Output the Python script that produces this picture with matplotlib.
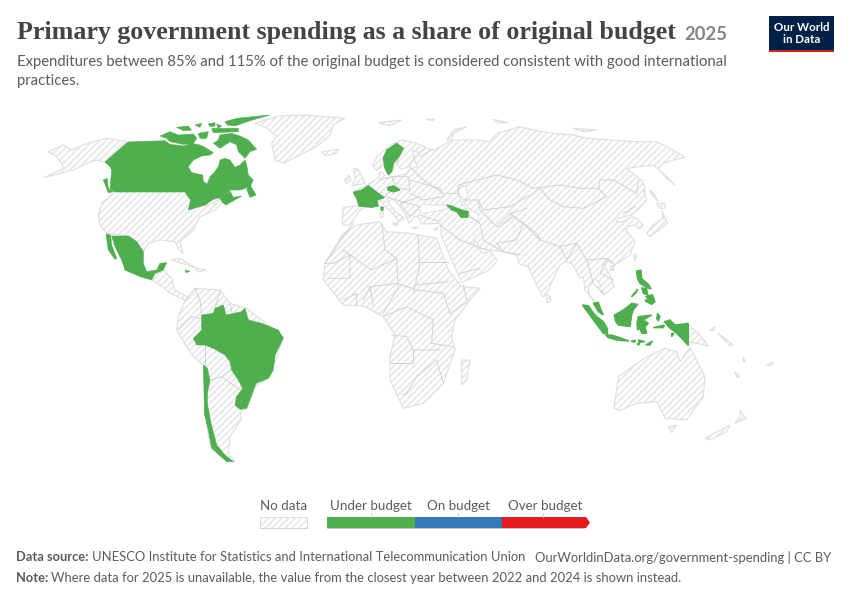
import matplotlib
matplotlib.use("Agg")
import matplotlib.pyplot as plt
from matplotlib.patches import Polygon, Rectangle

plt.rcParams['font.family'] = ['Lato', 'DejaVu Sans']
plt.rcParams['hatch.linewidth'] = 1.3

GREEN = '#4fae4e'
BLUE = '#3379b5'
RED = '#e41a1c'
OUTLINE = '#dedede'
HATCH = '#e8e8e8'
BORDER = '#d2d2d2'
TEXT = '#5b5b5b'

title = "Primary government spending as a share of original budget"
title_year = "2025"
subtitle = ["Expenditures between 85% and 115% of the original budget is considered consistent with good international",
            "practices."]
source_text = "UNESCO Institute for Statistics and International Telecommunication Union"
source_url = "OurWorldinData.org/government-spending | CC BY"
note_text = "Where data for 2025 is unavailable, the value from the closest year between 2022 and 2024 is shown instead."

legend_labels = ["Under budget", "On budget", "Over budget"]
legend_colors = [GREEN, BLUE, RED]
legend_edges = [327, 415, 502, 584]
legend_label_shift = [0, 0.5, 2]

# Outlines, in 3x crop pixels. Each crop has its own origin
CROP_A = (0, 100)
CROP_B = (320, 100)
CROP_C = (150, 280)
CROP_D = (540, 260)
CROP_E = (335, 130)
CROP_F = (150, 110)
CROP_G = (480, 190)
CROP_H = (575, 265)

# crop A
alaska = [(385,125),(315,187),(290,180),(250,195),(225,208),(133,233),(190,205),(185,190),(170,170),(145,155),(190,135),(215,150),(260,130),(320,115)]
usa = [(345,275),(555,275),(572,300),(565,330),(595,320),(640,310),(665,290),(685,290),(645,330),(600,350),(580,390),(540,425),(550,460),(537,450),(525,425),(480,420),(445,430),(430,455),(410,425),(385,408),(320,400),(300,375),(295,345),(305,310)]
greenland = [(765,70),(835,48),(920,45),(1035,55),(1000,75),(990,105),(950,140),(850,190),(825,180),(815,130),(830,110),(800,85)]
iceland = [(965,155),(1015,148),(1010,160),(975,167)]
central_america = [(455,540),(465,522),(490,510),(515,535),(525,570),(570,595),(555,600),(510,580),(480,555)]
cuba = [(515,480),(540,475),(590,505),(550,492)]
hispaniola = [(585,505),(620,510),(595,516)]
canada_vancouver = [(310,240),(322,235),(325,265),(340,275),(325,278)]
mexico_main = [(335,408),(385,408),(410,425),(430,455),(430,490),(440,515),(470,510),(480,490),(500,488),(490,510),(465,520),(455,540),(420,530),(375,510),(365,480),(345,440)]
mexico_baja = [(318,402),(332,405),(335,435),(350,475),(345,478),(325,450)]
jamaica = [(555,510),(570,514),(558,518)]

# crop F
canada_main = [(-135,156),(-66,96),(45,92),(60,103),(100,108),(125,100),(150,105),(165,112),(180,122),(190,128),(180,135),(155,138),(130,150),(115,170),(125,188),(158,195),(160,215),(172,222),(180,200),(195,185),(205,170),(210,150),(225,145),(240,150),(255,172),(270,165),(285,150),(290,165),(295,195),(310,210),(300,230),(270,240),(240,240),(215,262),(190,268),(165,285),(115,300),(122,270),(105,246),(-105,246),(-120,235),(-115,180),(-120,170)]
canada_baffin = [(210,75),(245,70),(270,78),(295,90),(320,118),(300,125),(285,145),(265,125),(260,105),(240,95),(210,115),(190,100),(205,90)]
canada_victoria = [(30,78),(60,65),(85,75),(130,72),(140,85),(130,100),(100,103),(60,95),(50,85)]
canada_banks = [(80,52),(115,48),(125,60),(100,62)]
canada_melville = [(135,45),(155,40),(150,52)]
canada_bathurst = [(175,42),(195,38),(195,48),(180,50)]
canada_cornwallis = [(200,42),(215,48),(205,55)]
canada_somerset = [(145,70),(175,65),(170,85),(150,85)]
canada_devon = [(185,55),(265,55),(265,65),(190,68)]
canada_ellesmere = [(225,35),(260,25),(360,15),(300,32),(255,48),(232,45)]
canada_newfoundland = [(290,238),(300,225),(318,255),(300,262)]
canada_maritimes = [(210,265),(240,243),(250,262),(275,258),(228,285),(218,278)]

# crop E
eurasia_west = [(310,280),(260,282),(250,262),(240,258),(222,280),(210,250),(180,212),(170,208),(158,215),(185,248),(200,258),(208,265),(190,275),(178,255),(150,230),(135,210),(120,225),(90,232),(75,240),(60,262),(45,285),(25,285),(22,265),(25,232),(70,228),(75,215),(55,185),(90,168),(120,150),(135,140),(130,130),(140,125),(155,145),(200,135),(215,130),(222,118),(248,110),(235,85),(270,55),(300,60),(330,42)]
scandinavia = [(112,105),(128,78),(165,45),(200,30),(240,38),(272,52),(250,68),(232,60),(238,85),(222,110),(198,118),(185,100),(195,75),(170,125),(155,120),(145,105),(125,122)]
sweden = [(185,40),(205,55),(195,75),(175,100),(170,125),(160,135),(150,115),(145,85),(155,60)]
black_sea = [(250,235),(262,222),(300,225),(335,225),(340,235),(300,245),(260,250)]
caspian = [(368,178),(392,165),(398,195),(385,215),(405,240),(428,250),(430,275),(408,265),(400,245),(380,220)]
britain = [(55,115),(70,118),(90,160),(50,168),(62,145)]
ireland = [(28,150),(42,135),(48,150),(35,160)]
france = [(55,187),(80,180),(100,167),(130,190),(148,203),(125,210),(130,228),(110,232),(72,228),(65,205)]
corsica = [(138,230),(145,232),(143,243),(138,240)]
hungary = [(158,172),(175,167),(195,180),(175,186),(158,180)]
georgia_armenia = [(335,225),(350,228),(380,240),(400,245),(398,262),(378,262),(365,245),(350,240)]
sardinia = [(135,248),(145,248),(143,262),(136,262)]
sicily = [(170,280),(190,278),(185,288)]
crete = [(230,292),(250,292),(240,296)]
cyprus = [(295,298),(310,292),(305,300)]

# crop B
eurasia_north = [(400,120),(470,120),(510,125),(530,100),(600,80),(650,92),(700,100),(760,105),(800,115),(870,120),(950,125),(1010,125),(1050,145),(1095,172),(1060,180),(1030,190),(1015,205),(1040,235),(1065,255),(1030,220),(1000,195),(920,205),(945,225),(965,240),(975,260),(975,280)]
eurasia_arabia = [(480,445),(465,420),(460,432),(490,460),(510,452),(532,482),(505,512),(425,548),(395,480),(365,410),(360,372)]
svalbard = [(175,68),(245,60),(210,78)]
novaya = [(380,120),(400,90),(440,80),(400,100),(395,118)]
severnaya = [(520,58),(565,68),(530,68)]
new_siberia = [(760,85),(830,90),(790,95)]
franz_josef = [(320,58),(345,58),(335,62)]

# crop G
eurasia_east = [(490,0),(500,30),(478,55),(455,75),(415,85),(410,95),(430,95),(455,80),(470,85),(490,105),(478,118),(465,105),(445,110),(435,115),(465,155),(450,195),(405,225),(385,212),(375,228),(388,250),(402,290),(372,315),(352,292),(365,290),(345,265),(325,295),(330,320),(345,335),(315,300),(310,260),(300,265),(275,220),(255,215),(240,225),(205,300),(190,322),(172,290),(145,230),(118,222),(110,195),(65,185),(15,178),(0,175)]
japan_honshu = [(500,130),(520,105),(550,85),(545,60),(562,100),(530,125),(510,140)]
japan_hokkaido = [(530,40),(555,40),(555,55),(540,55)]
sakhalin = [(508,0),(520,10),(535,35),(520,20)]
taiwan = [(462,192),(470,195),(465,215)]
hainan = [(390,230),(402,225),(400,242),(392,242)]
sri_lanka = [(198,310),(210,320),(212,335),(200,338)]

# crop C
africa = [(524,-50),(580,-140),(620,-165),(690,-175),(710,-145),(780,-140),(860,-125),(895,-30),(935,20),(990,25),(960,60),(915,120),(905,170),(915,210),(880,310),(820,370),(760,385),(720,300),(720,230),(735,165),(700,110),(640,78),(580,75),(520,0)]
madagascar = [(935,240),(960,240),(950,300),(935,315)]
south_america = [(80,150),(85,110),(105,60),(135,25),(210,30),(240,70),(290,85),(400,170),(360,290),(315,320),(290,385),(270,395),(275,415),(240,470),(235,520),(255,545),(235,545),(180,495),(165,400),(160,255),(125,225)]
brazil = [(130,175),(155,150),(155,105),(190,100),(195,85),(220,75),(228,105),(275,95),(285,85),(295,120),(335,130),(385,150),(400,175),(375,225),(370,270),(355,295),(318,310),(305,345),(290,385),(270,388),(255,375),(260,350),(278,325),(265,300),(245,270),(240,245),(225,225),(190,205),(165,195),(140,195)]
chile = [(160,255),(172,265),(180,300),(172,340),(172,370),(183,430),(200,495),(225,525),(250,545),(230,545),(185,505),(175,450),(163,400),(162,320)]

# crop D
australia = [(222,445),(235,350),(320,290),(375,265),(410,275),(420,305),(450,262),(495,350),(490,410),(440,480),(375,475),(350,425),(290,430),(240,452)]
tasmania = [(385,500),(410,495),(395,518)]
nz_north = [(600,450),(618,475),(585,490),(600,470)]
nz_south = [(495,535),(570,495),(560,515),(510,540)]
png = [(445,195),(480,225),(505,258),(470,250),(445,247)]
new_britain = [(510,210),(525,200),(520,212)]
solomon = [(535,220),(580,255),(570,258)]
vanuatu = [(610,292),(616,305),(610,305)]
new_caledonia = [(583,335),(600,350),(592,352)]
fiji = [(680,315),(700,305),(690,318)]

# crop H
sumatra = [(22,120),(40,122),(60,150),(85,170),(97,190),(98,208),(85,205),(55,165)]
malaya = [(55,115),(70,112),(78,135),(85,150),(70,140)]
java = [(92,210),(110,210),(135,218),(162,228),(130,226),(100,218)]
borneo = [(118,150),(145,135),(170,115),(188,118),(175,135),(170,150),(165,185),(130,180),(122,170)]
sulawesi = [(190,155),(230,150),(205,165),(220,175),(210,185),(215,205),(200,205),(195,190),(188,195),(186,175)]
papua = [(268,170),(285,165),(300,180),(340,175),(340,242),(320,220),(300,200),(285,190)]
halmahera = [(248,145),(255,155),(250,168),(245,160)]
seram = [(235,188),(268,180),(265,188)]
aru = [(290,205),(297,205),(290,215)]
bali = [(168,228),(182,226),(178,232)]
sumbawa = [(190,225),(210,230),(192,232)]
sumba = [(186,236),(195,236),(190,240)]
timor = [(212,240),(232,228),(225,240)]
luzon = [(185,18),(198,15),(200,40),(222,60),(228,72),(215,68),(195,55),(187,40)]
mindanao = [(210,108),(232,88),(240,110),(230,118)]
palawan = [(170,95),(188,72),(182,85)]
samar = [(200,68),(215,72),(218,90),(205,85)]
negros = [(212,95),(225,90),(222,100)]
borneo_line = [(125,150),(150,150),(175,125)]

# internal borders
borders_b = [
    [(100,370),(70,410),(15,490)], [(185,370),(195,450),(230,475)], [(295,405),(298,500)],
    [(298,485),(385,485)], [(70,450),(155,510),(230,475)], [(15,490),(40,490),(90,465),(90,535),(25,535)],
    [(230,475),(235,570)], [(298,500),(280,580)], [(285,555),(385,545)],
    [(270,200),(310,240),(370,280),(415,280),(415,255),(490,235),(530,225),(590,240),(640,265),(680,260),(720,255),(780,265),(835,265),(840,240),(880,240),(950,280),(955,240)],
    [(660,265),(690,300),(730,320),(790,325),(860,290),(835,265)],
    [(415,280),(430,300),(475,300),(490,330),(570,320),(640,280),(660,265)],
    [(445,345),(480,370),(490,420),(540,450)], [(360,375),(420,420),(500,450)],
    [(475,300),(480,330),(530,380),(570,340),(620,325)],
    [(540,380),(580,350),(610,370),(590,420),(530,430),(550,455),(600,465)],
    [(570,340),(650,400),(660,420),(720,440),(770,430),(800,480),(860,475),(880,490)],
    [(660,420),(610,370)], [(720,440),(740,480),(770,430)], [(800,480),(820,550),(850,580)],
    [(860,475),(840,520),(880,540)], [(270,240),(360,265),(370,290),(310,300),(270,280)],
    [(215,230),(265,230),(270,270),(230,262)], [(180,240),(215,230),(230,260),(195,290)],
    [(195,290),(300,320),(270,350),(240,310),(300,290)], [(300,345),(360,365)],
    [(420,520),(480,505)], [(440,600),(430,555)], [(335,150),(300,170)], [(945,320),(910,340)],
]
borders_c = [
    [(700,110),(770,80),(850,120),(845,190),(910,200)], [(725,165),(770,170),(790,210),(870,210)],
    [(720,250),(790,250),(790,210)], [(860,240),(800,290),(770,340),(755,345)], [(860,240),(880,310)],
    [(740,30),(700,100)], [(640,60),(660,20),(740,10),(800,30),(880,40),(900,100),(960,60)],
    [(580,60),(620,40),(620,75)], [(660,20),(670,75)],
    [(85,150),(125,110),(150,115)], [(135,25),(150,60),(155,105)], [(210,30),(195,85)], [(240,70),(245,95)],
    [(165,195),(165,255)], [(180,300),(215,290),(245,270)], [(215,290),(270,330)],
]
uruguay_line = [(258,355),(290,375)]

legend_hatch_box = [260, 307]


def to_px(points, crop):
    return [(crop[0] + px / 3, crop[1] + py / 3) for px, py in points]


def no_data(ax, pts):
    ax.add_patch(Polygon(pts, closed=True, facecolor='white', edgecolor='none', zorder=1))
    ax.add_patch(Polygon(pts, closed=True, facecolor='none', hatch='/////', edgecolor=HATCH, linewidth=0, zorder=1.5))
    ax.add_patch(Polygon(pts, closed=True, fill=False, edgecolor=OUTLINE, linewidth=0.8, zorder=2))


def green(ax, points, crop, lw=0.4):
    ax.add_patch(Polygon(to_px(points, crop), closed=True, facecolor=GREEN, edgecolor=GREEN, linewidth=lw, zorder=4))


fig = plt.figure(figsize=(8.5, 6), dpi=100, facecolor='white')
ax = fig.add_axes([0, 0, 1, 1])
ax.set_xlim(0, 850)
ax.set_ylim(600, 0)
ax.axis('off')

eurasia = to_px(eurasia_west, CROP_E) + to_px(eurasia_north, CROP_B) + to_px(eurasia_east, CROP_G) + to_px(eurasia_arabia, CROP_B)
no_data(ax, eurasia)

for shape in [alaska, usa, greenland, iceland, central_america, cuba, hispaniola]:
    no_data(ax, to_px(shape, CROP_A))
for shape in [scandinavia, britain, ireland, sardinia, sicily, crete, cyprus]:
    no_data(ax, to_px(shape, CROP_E))
for shape in [svalbard, novaya, severnaya, new_siberia, franz_josef]:
    no_data(ax, to_px(shape, CROP_B))
for shape in [japan_honshu, japan_hokkaido, sakhalin, taiwan, hainan, sri_lanka]:
    no_data(ax, to_px(shape, CROP_G))
for shape in [africa, madagascar, south_america]:
    no_data(ax, to_px(shape, CROP_C))
for shape in [australia, tasmania, nz_north, nz_south, png, new_britain, solomon, vanuatu, new_caledonia, fiji]:
    no_data(ax, to_px(shape, CROP_D))

for shape in [black_sea, caspian]:
    ax.add_patch(Polygon(to_px(shape, CROP_E), closed=True, facecolor='white', edgecolor=OUTLINE, linewidth=0.7, zorder=2.5))

for line in borders_b:
    xs, ys = zip(*to_px(line, CROP_B))
    ax.plot(xs, ys, color=BORDER, lw=0.7, zorder=3)
for line in borders_c:
    xs, ys = zip(*to_px(line, CROP_C))
    ax.plot(xs, ys, color=BORDER, lw=0.7, zorder=3)

for shape in [mexico_main, mexico_baja, jamaica, canada_vancouver]:
    green(ax, shape, CROP_A)
for shape in [canada_main, canada_baffin, canada_victoria, canada_banks, canada_melville, canada_bathurst,
              canada_cornwallis, canada_somerset, canada_devon, canada_ellesmere, canada_newfoundland, canada_maritimes]:
    green(ax, shape, CROP_F)
for shape in [sweden, france, corsica, hungary, georgia_armenia]:
    green(ax, shape, CROP_E, lw=0.8)
for shape in [brazil, chile]:
    green(ax, shape, CROP_C)
for shape in [sumatra, malaya, java, borneo, sulawesi, papua, halmahera, seram, aru, bali, sumbawa, sumba, timor,
              luzon, mindanao, palawan, samar, negros]:
    green(ax, shape, CROP_H, lw=1.0)
xs, ys = zip(*to_px(uruguay_line, CROP_C))
ax.plot(xs, ys, color='#6f9f6f', lw=0.6, zorder=5)
xs, ys = zip(*to_px(borneo_line, CROP_H))
ax.plot(xs, ys, color='#6f9f6f', lw=0.5, zorder=5)

# header
ax.text(17, 32.5, title, family=['Liberation Serif'], fontweight='bold', fontsize=18.73, color='#444444', va='center', ha='left')
ax.text(684, 34, title_year, fontsize=13.2, fontweight='bold', color='#858585', va='center', ha='left')
ax.text(17, 62, subtitle[0], fontsize=10.71, color=TEXT, va='center')
ax.text(17, 81, subtitle[1], fontsize=10.71, color=TEXT, va='center')

# logo
ax.add_patch(Rectangle((769, 16), 65, 36, facecolor='#002147', edgecolor='none'))
ax.add_patch(Rectangle((769, 49.5), 65, 2.5, facecolor='#ce261e', edgecolor='none'))
ax.text(801.5, 27.5, "Our World", fontsize=8.3, fontweight='bold', color='white', ha='center', va='center')
ax.text(801.5, 39.5, "in Data", fontsize=8.3, fontweight='bold', color='white', ha='center', va='center')

# legend
ax.text(284, 506, "No data", fontsize=9.6, color=TEXT, ha='center', va='center')
ax.add_patch(Rectangle((legend_hatch_box[0], 517), legend_hatch_box[1] - legend_hatch_box[0], 11,
                       facecolor='white', edgecolor='#d5d5d5', linewidth=0.7))
ax.add_patch(Rectangle((legend_hatch_box[0], 517), legend_hatch_box[1] - legend_hatch_box[0], 11,
                       facecolor='none', edgecolor=HATCH, hatch='/////', linewidth=0))
for i, lab in enumerate(legend_labels):
    ax.add_patch(Rectangle((legend_edges[i], 517), legend_edges[i + 1] - legend_edges[i], 11,
                           facecolor=legend_colors[i], edgecolor='none'))
    mid = (legend_edges[i] + legend_edges[i + 1]) / 2
    ax.plot([mid, mid], [513, 517], color='#c8c8c8', lw=0.6)
    ax.text(mid + legend_label_shift[i], 506, lab, fontsize=9.6, color=TEXT, ha='center', va='center')
ax.add_patch(Polygon([(584, 517), (586, 517), (590, 522.5), (586, 528), (584, 528)], closed=True, facecolor=RED, edgecolor='none'))
ax.plot([327, 584], [528, 528], color='#9a9a9a', lw=0.4, zorder=6)

# footer
ax.text(16, 557, "Data source:", fontsize=9.3, fontweight='bold', color=TEXT, va='center')
ax.text(92, 557, source_text, fontsize=9.33, color=TEXT, va='center')
ax.text(831, 557, source_url, fontsize=9.33, color=TEXT, va='center', ha='right')
ax.text(16, 578, "Note:", fontsize=9.3, fontweight='bold', color=TEXT, va='center')
ax.text(51, 578, note_text, fontsize=9.36, color=TEXT, va='center')

fig.savefig('out.png', dpi=100)
